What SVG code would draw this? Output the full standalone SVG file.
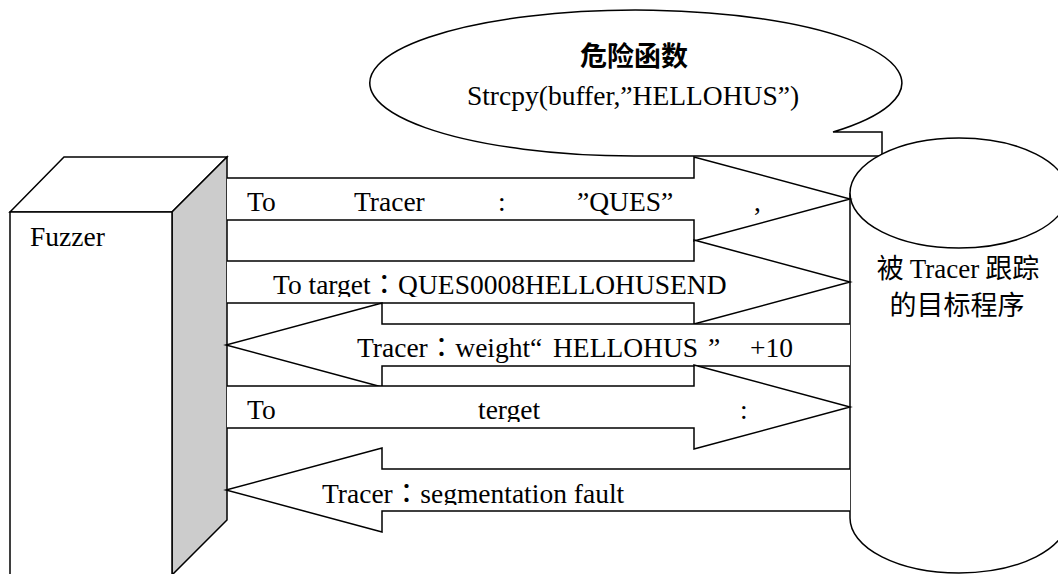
<svg xmlns="http://www.w3.org/2000/svg" width="1058" height="574" viewBox="0 0 1058 574">
  <style>
    .ln { fill: #fff; stroke: #000; stroke-width: 1.5; stroke-linejoin: miter; }
    .side { fill: #ccc; stroke: #000; stroke-width: 1.5; }
    .lat { font-family: "Liberation Serif", "Times New Roman", serif; font-size: 27.5px; fill: #000; }
    .fw { font-family: "Noto Sans CJK TC", sans-serif; }
    .cjk { font-family: "Noto Sans CJK SC", sans-serif; font-size: 27px; fill: #000; }
    .hd { font-family: "Noto Sans CJK SC", sans-serif; font-size: 27px; font-weight: bold; fill: #000; }
    .mid { text-anchor: middle; }
    .end { text-anchor: end; }
  </style>
  <defs>
    <!-- text boxes inside the arrow shafts clip descenders -->
    <clipPath id="clipA2"><rect x="227" y="262" width="620" height="35"/></clipPath>
    <clipPath id="clipA4"><rect x="227" y="387" width="620" height="35"/></clipPath>
    <clipPath id="clipA5"><rect x="227" y="470" width="620" height="35"/></clipPath>
  </defs>
  <rect width="1058" height="574" fill="#fff"/>

  <!-- Fuzzer block -->
  <g id="fuzzer">
    <polygon class="ln" points="10,212 64,157 227,157 172,212"/>
    <polygon class="side" points="172,212 227,157 227,520 172,575"/>
    <polyline class="ln" points="10,580 10,212 172,212 172,580"/>
    <text class="lat" x="30" y="246">Fuzzer</text>
  </g>

  <!-- speech bubble -->
  <g id="callout">
    <path class="ln" d="M833,132 A266,73 0 1 0 634,156 L882,156 L882,132 Z"/>
    <text class="hd mid" x="634" y="66">危险函数</text>
    <text class="lat mid" x="633" y="105">Strcpy(buffer,”HELLOHUS”)</text>
  </g>

  <!-- traced target program -->
  <g id="target">
    <path class="ln" d="M850,193 V518 A109,55 0 0 0 1068,518 V193"/>
    <ellipse class="ln" cx="959" cy="193" rx="109" ry="55"/>
    <text class="cjk mid" x="958" y="278">被 <tspan class="lat" style="font-size:27px">Tracer</tspan> 跟踪</text>
    <text class="cjk mid" x="957" y="315">的目标程序</text>
  </g>

  <!-- message arrows -->
  <g id="connectors">
    <path class="ln" d="M227,178 H694 V157 L850,199 L694,241 V220 H227"/>
    <path class="ln" d="M227,261 H694 V240 L850,282 L694,324 V303 H227"/>
    <path class="ln" d="M850,324 H382 V303 L226,345 L382,387 V366 H850"/>
    <path class="ln" d="M227,386 H694 V365 L850,407 L694,449 V428 H227"/>
    <path class="ln" d="M850,469 H382 V448 L226,490 L382,532 V511 H850"/>

    <g id="label-1">
      <text class="lat" x="247" y="211">To</text>
      <text class="lat" x="354" y="211">Tracer</text>
      <text class="lat" x="498" y="211">:</text>
      <text class="lat" x="577" y="211">”QUES”</text>
      <text class="lat" x="754" y="211">,</text>
    </g>
    <g id="label-2" clip-path="url(#clipA2)">
      <text class="lat" x="273" y="294">To target<tspan class="fw">：</tspan>QUES0008HELLOHUSEND</text>
    </g>
    <g id="label-3">
      <text class="lat" x="357" y="357">Tracer<tspan class="fw">：</tspan>weight“</text>
      <text class="lat" x="553" y="357">HELLOHUS</text>
      <text class="lat" x="708" y="357">”</text>
      <text class="lat end" x="793" y="357">+10</text>
    </g>
    <g id="label-4" clip-path="url(#clipA4)">
      <text class="lat" x="247" y="419">To</text>
      <text class="lat" x="478" y="419">terget</text>
      <text class="lat" x="740" y="419">:</text>
    </g>
    <g id="label-5" clip-path="url(#clipA5)">
      <text class="lat" x="322" y="503">Tracer<tspan class="fw">：</tspan>segmentation fault</text>
    </g>
  </g>
</svg>
